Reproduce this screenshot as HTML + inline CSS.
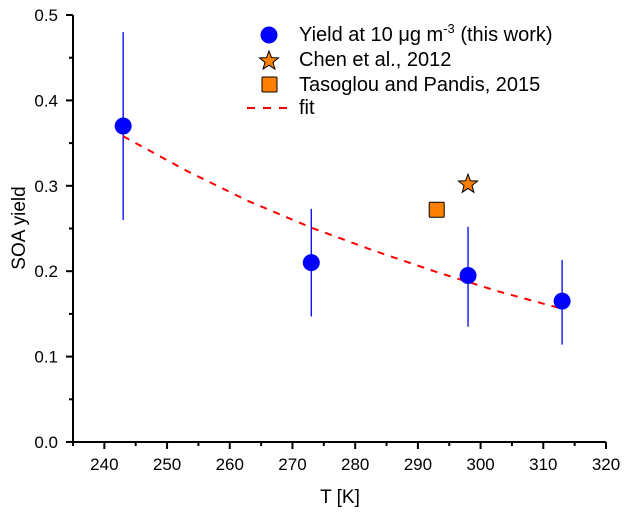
<!DOCTYPE html>
<html><head><meta charset="utf-8"><style>
body{margin:0;background:#fff;}
svg{display:block;font-family:"Liberation Sans",Arial,sans-serif;}
</style></head><body>
<svg id="c" width="627" height="515"></svg>
<script>
const temps=[243,273,298,313];
const yields=[0.37,0.21,0.195,0.165];
const errLow=[0.26,0.147,0.135,0.114];
const errHigh=[0.48,0.273,0.252,0.213];
const chenT=[298], chenY=[0.303];
const tasT=[293], tasY=[0.272];
const fitT=[243,253,263,273,283,293,303,313];
const fitY=[0.358,0.318,0.282,0.251,0.224,0.199,0.176,0.156];
const xTicks=[240,250,260,270,280,290,300,310,320];
const yTicks=[0.0,0.1,0.2,0.3,0.4,0.5];
const NS='http://www.w3.org/2000/svg';
const svg=document.getElementById('c');
const X0=73,X1=606,Y0=442,Y1=15;
const xs=t=>X0+(t-235)/(320-235)*(X1-X0);
const ys=v=>Y0-(v-0)/(0.5)*(Y0-Y1);
function mk(tag,at,parent){const e=document.createElementNS(NS,tag);for(const k in at)e.setAttribute(k,at[k]);(parent||svg).appendChild(e);return e;}
let ax=mk('line',{x1:X0,y1:Y0,x2:X1,y2:Y0,stroke:'#000','stroke-width':2});


let ay=mk('line',{x1:X0,y1:Y0+1,x2:X0,y2:Y1,stroke:'#000','stroke-width':2});


xTicks.forEach(t=>{
  mk('line',{x1:xs(t),y1:Y0,x2:xs(t),y2:Y0+7,stroke:'#000','stroke-width':2});
  if(t<320)mk('line',{x1:xs(t+5),y1:Y0,x2:xs(t+5),y2:Y0+4,stroke:'#000','stroke-width':2});
  const tx=mk('text',{x:xs(t),y:Y0+28,'text-anchor':'middle','font-size':17});
  tx.textContent=t;
  
  
});
mk('line',{x1:xs(235),y1:Y0,x2:xs(235),y2:Y0+4,stroke:'#000','stroke-width':2});
yTicks.forEach(v=>{
  mk('line',{x1:X0-7,y1:ys(v),x2:X0,y2:ys(v),stroke:'#000','stroke-width':2});
  if(v<0.5)mk('line',{x1:X0-4,y1:ys(v+0.05),x2:X0,y2:ys(v+0.05),stroke:'#000','stroke-width':2});
  const tx=mk('text',{x:X0-15,y:ys(v)+6,'text-anchor':'end','font-size':17});
  tx.textContent=v.toFixed(1);
  
  
});
let xt=mk('text',{x:340,y:503,'text-anchor':'middle','font-size':19});xt.textContent='T [K]';


let yt=mk('text',{x:0,y:0,'text-anchor':'middle','font-size':19,transform:'translate(25,228) rotate(-90)'});yt.textContent='SOA yield';


temps.forEach((t,i)=>{
  const l=mk('line',{x1:xs(t),y1:ys(errLow[i]),x2:xs(t),y2:ys(errHigh[i]),stroke:'#0000ff','stroke-width':1.3});
  
  
});
const fp=mk('polyline',{points:fitT.map((t,i)=>xs(t)+','+ys(fitY[i])).join(' '),fill:'none',stroke:'#ff0000','stroke-width':2,'stroke-dasharray':'7,7'});


temps.forEach((t,i)=>{
  const c=mk('circle',{cx:xs(t),cy:ys(yields[i]),r:8.5,fill:'#0000ff'});
  
  
});
function star(cx,cy,R,r){let p=[];for(let k=0;k<10;k++){const a=-Math.PI/2+k*Math.PI/5;const rr=k%2?r:R;p.push((cx+rr*Math.cos(a)).toFixed(1)+','+(cy+rr*Math.sin(a)).toFixed(1));}return p.join(' ');}
chenT.forEach((t,i)=>{
  const s=mk('polygon',{points:star(xs(t),ys(chenY[i])+1,10,4.2),fill:'#ff8000',stroke:'#000','stroke-width':1});
  
  
});
tasT.forEach((t,i)=>{
  const s=mk('rect',{x:xs(t)-7.5,y:ys(tasY[i])-7.5,width:15,height:15,rx:1,fill:'#ff8000',stroke:'#000','stroke-width':1});
  
  
});
const lg=mk('g',{});


mk('circle',{cx:269,cy:35,r:8.5,fill:'#0000ff'},lg);
mk('polygon',{points:star(269,61,10,4.2),fill:'#ff8000',stroke:'#000','stroke-width':1},lg);
mk('rect',{x:262,y:77,width:15,height:15,rx:1,fill:'#ff8000',stroke:'#000','stroke-width':1},lg);
mk('line',{x1:247,y1:108,x2:293,y2:108,stroke:'#ff0000','stroke-width':2,'stroke-dasharray':'8,8'},lg);
const labs=[['Yield at 10 μg m',41],['Chen et al., 2012',66],['Tasoglou and Pandis, 2015',91],['fit',114]];
labs.forEach((L,i)=>{
  const tx=mk('text',{x:299,y:L[1],'font-size':20},lg);
  tx.textContent=L[0];
  
  
  if(i==0){const s1=mk('tspan',{dy:-8,'font-size':13},tx);s1.textContent='-3';const s2=mk('tspan',{dy:8},tx);s2.textContent=' (this work)';}
});
</script>
</body></html>
